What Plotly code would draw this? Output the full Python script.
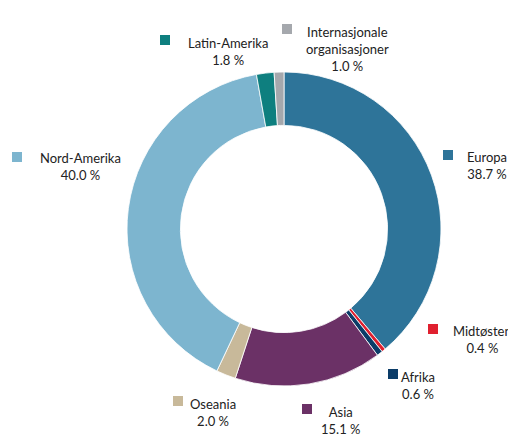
import plotly.graph_objects as go

regions = ['Europa', 'Midtøsten', 'Afrika', 'Asia', 'Oseania',
           'Nord-Amerika', 'Latin-Amerika', 'Internasjonale<br>organisasjoner']
shares = [38.7, 0.4, 0.6, 15.1, 2.0, 40.0, 1.8, 1.0]
colors = ['#2E7499', '#E0202F', '#0B3C68', '#6B3166', '#C8B99A',
          '#7DB5CF', '#0E7F7F', '#A5A8AD']

# page body has an 8px margin, so the figure is drawn 8px in from the corner
OFF = 8
W, H = 516 - OFF, 437 - OFF

# label anchors in window pixels: (square x, square y, text centre x, text top y)
label_pos = [
    (448, 155, 487, 147),
    (433, 329, 482, 321),
    (393, 374, 418, 367),
    (307, 409, 340, 402),
    (178, 401, 213, 394),
    (17, 157, 80, 148),
    (165, 40, 228, 33),
    (287, 29, 347, 22),
]


def px(x, y):
    return (x - OFF) / W, 1 - (y - OFF) / H


cx, cy, r = 284, 229, 157
x0, y1 = px(cx - r, cy - r)
x1, y0 = px(cx + r, cy + r)

fig = go.Figure(go.Pie(
    labels=regions,
    values=shares,
    sort=False,
    direction='clockwise',
    rotation=0,
    hole=0.66,
    marker=dict(colors=colors, line=dict(color='white', width=0.8)),
    textinfo='none',
    showlegend=False,
    domain=dict(x=[x0, x1], y=[y0, y1]),
))

for name, val, col, (sx, sy, tx, ty) in zip(regions, shares, colors, label_pos):
    qx0, qy1 = px(sx - 5, sy - 5)
    qx1, qy0 = px(sx + 5, sy + 5)
    fig.add_shape(type='rect', xref='paper', yref='paper',
                  x0=qx0, x1=qx1, y0=qy0, y1=qy1,
                  fillcolor=col, line=dict(width=0))
    ax, ay = px(tx, ty)
    fig.add_annotation(xref='paper', yref='paper', x=ax, y=ay,
                       xanchor='center', yanchor='top', showarrow=False,
                       align='center',
                       text=f'{name}<br>{val:.1f} %',
                       font=dict(family='Lato', size=13, color='#222222'))

fig.update_layout(width=W, height=H, margin=dict(l=0, r=0, t=0, b=0),
                  paper_bgcolor='white', plot_bgcolor='white')

fig.write_html('out.html')
